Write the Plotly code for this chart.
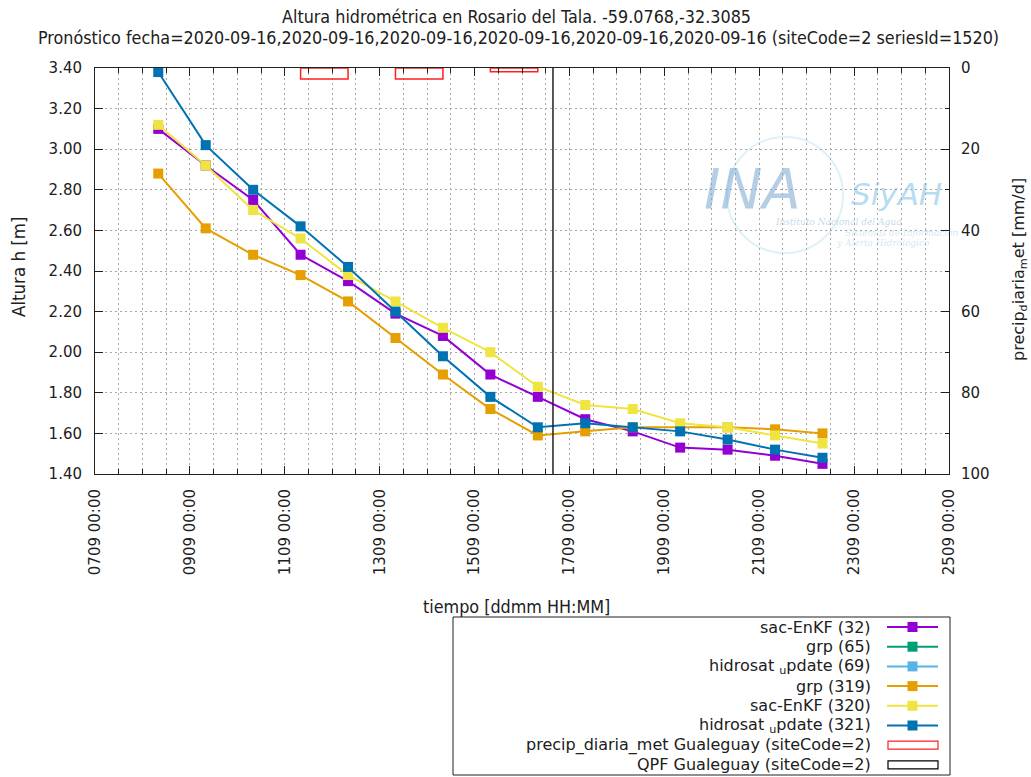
import plotly.graph_objects as go

# ---------------- data ----------------
fechas = ["2020-09-08 08:00", "2020-09-09 08:00", "2020-09-10 08:00", "2020-09-11 08:00",
          "2020-09-12 08:00", "2020-09-13 08:00", "2020-09-14 08:00", "2020-09-15 08:00",
          "2020-09-16 08:00", "2020-09-17 08:00", "2020-09-18 08:00", "2020-09-19 08:00",
          "2020-09-20 08:00", "2020-09-21 08:00", "2020-09-22 08:00"]

sac_enkf_32 = [3.10, 2.92, 2.75, 2.48, 2.35, 2.19, 2.08, 1.89, 1.78, 1.67, 1.61, 1.53, 1.52, 1.49, 1.45]
grp_65 = []
hidrosat_69 = []
grp_319 = [2.88, 2.61, 2.48, 2.38, 2.25, 2.07, 1.89, 1.72, 1.59, 1.61, 1.63, 1.63, 1.63, 1.62, 1.60]
sac_enkf_320 = [3.12, 2.92, 2.70, 2.56, 2.38, 2.25, 2.12, 2.00, 1.83, 1.74, 1.72, 1.65, 1.63, 1.59, 1.55]
hidrosat_321 = [3.38, 3.02, 2.80, 2.62, 2.42, 2.20, 1.98, 1.78, 1.63, 1.65, 1.63, 1.61, 1.57, 1.52, 1.48]

precip_fechas = ["2020-09-11 08:00", "2020-09-13 08:00", "2020-09-15 08:00"]
precip_valores = [2.7, 2.7, 0.9]
qpf_fechas = []
qpf_valores = []

fecha_pronostico = "2020-09-16 15:40"

series_names = ["sac-EnKF (32)", "grp (65)", "hidrosat <sub>u</sub>pdate (69)",
                "grp (319)", "sac-EnKF (320)", "hidrosat <sub>u</sub>pdate (321)"]
series_vals = [sac_enkf_32, grp_65, hidrosat_69, grp_319, sac_enkf_320, hidrosat_321]
series_colors = ["#9400d3", "#009e73", "#56b4e9", "#e69f00", "#f0e442", "#0072b2"]
precip_names = ["precip_diaria_met Gualeguay (siteCode=2)", "QPF Gualeguay (siteCode=2)"]
precip_colors = ["#ff2020", "#000000"]

title1 = "Altura hidrométrica en Rosario del Tala. -59.0768,-32.3085"
title2 = ("Pronóstico fecha=2020-09-16,2020-09-16,2020-09-16,2020-09-16,2020-09-16,2020-09-16 "
          "(siteCode=2 seriesId=1520)")

# ---------------- layout geometry ----------------
W, H = 1031, 777
L, R, T, B = 95, 949, 68, 474


def xp(px):
    return (px - L) / (R - L)


def yp(py):
    return (B - py) / (B - T)


FONT = "DejaVu Sans"
COND = "DejaVu Sans Condensed, DejaVu Sans"
INK = "#202020"
GRID = "#a8a8a8"

fig = go.Figure()

# precipitation bars (right axis, reversed)
fig.add_trace(go.Bar(x=precip_fechas, y=precip_valores, yaxis="y2", base=0,
                     width=86400000, offset=0,
                     marker=dict(color="rgba(0,0,0,0)", line=dict(color=precip_colors[0], width=1.5)),
                     name=precip_names[0], showlegend=False))
fig.add_trace(go.Bar(x=qpf_fechas, y=qpf_valores, yaxis="y2", base=0,
                     width=86400000, offset=0,
                     marker=dict(color="rgba(0,0,0,0)", line=dict(color=precip_colors[1], width=1.5)),
                     name=precip_names[1], showlegend=False))

for name, vals, col in zip(series_names, series_vals, series_colors):
    fig.add_trace(go.Scatter(x=fechas[:len(vals)], y=vals, mode="lines+markers", name=name,
                             line=dict(color=col, width=2),
                             marker=dict(symbol="square", size=10, color=col),
                             showlegend=False))

# forecast date vertical line
fig.add_shape(type="line", xref="x", yref="paper", x0=fecha_pronostico, x1=fecha_pronostico,
              y0=0, y1=1, line=dict(color=INK, width=1.5))

# ---------------- watermark logo ----------------
fig.add_shape(type="circle", xref="paper", yref="paper", xsizemode="pixel", ysizemode="pixel",
              xanchor=xp(785), yanchor=yp(195), x0=-58, x1=58, y0=-58, y1=58,
              line=dict(color="rgba(160,215,235,0.35)", width=2), layer="below")
annotations = [
    dict(text="INA", x=xp(752), y=yp(188), font=dict(family=FONT, size=56, color="rgba(120,165,205,0.55)", style="italic")),
    dict(text="SiyAH", x=xp(896), y=yp(194), font=dict(family=FONT, size=31, color="rgba(110,185,225,0.5)", style="italic")),
    dict(text="Instituto Nacional del Agua", x=xp(838), y=yp(222), font=dict(family="DejaVu Serif", size=9, color="rgba(120,165,205,0.45)", style="italic")),
    dict(text="Sistemas de Información", x=xp(902), y=yp(233), font=dict(family="DejaVu Serif", size=9, color="rgba(110,185,225,0.35)", style="italic")),
    dict(text="y Alerta Hidrológico", x=xp(883), y=yp(243), font=dict(family="DejaVu Serif", size=9, color="rgba(110,185,225,0.35)", style="italic")),
]
for a in annotations:
    a.update(xref="paper", yref="paper", showarrow=False, xanchor="center", yanchor="middle")

# ---------------- titles ----------------
text_annots = [
    dict(text=title1, x=xp(516), y=yp(17), font=dict(family=COND, size=17.8, color=INK)),
    dict(text=title2, x=xp(518), y=yp(38), font=dict(family=COND, size=17.8, color=INK)),
    dict(text="tiempo [ddmm HH:MM]", x=xp(516), y=yp(606), font=dict(family=COND, size=17.8, color=INK)),
    dict(text="Altura h [m]", x=xp(18), y=yp(267), textangle=-90, font=dict(family=COND, size=18.5, color=INK)),
    dict(text="precip<sub>d</sub>iaria<sub>m</sub>et [mm/d]", x=xp(1019), y=yp(270), textangle=-90,
         font=dict(family=FONT, size=16, color=INK)),
]
for a in text_annots:
    a.update(xref="paper", yref="paper", showarrow=False, xanchor="center", yanchor="middle")

# ---------------- manual legend (text right, sample at right) ----------------
fig.add_shape(type="rect", xref="paper", yref="paper", x0=xp(453), x1=xp(950), y0=yp(775), y1=yp(617),
              line=dict(color=INK, width=1), fillcolor="white", layer="above")
row0, dy = 627, 19.7
legend_annots = []
legend_entries = list(zip(series_names, series_colors)) + list(zip(precip_names, precip_colors))
for i, (name, col) in enumerate(legend_entries):
    yy = row0 + i * dy
    legend_annots.append(dict(text=name, x=xp(873), y=yp(yy), xref="paper", yref="paper", showarrow=False,
                              xanchor="right", yanchor="middle",
                              font=dict(family=FONT, size=16, color=INK)))
    if i < len(series_names):
        fig.add_shape(type="line", xref="paper", yref="paper", x0=xp(887), x1=xp(938), y0=yp(yy), y1=yp(yy),
                      line=dict(color=col, width=2), layer="above")
        fig.add_shape(type="rect", xref="paper", yref="paper", x0=xp(907.5), x1=xp(917.5),
                      y0=yp(yy + 5), y1=yp(yy - 5), line=dict(color=col, width=0), fillcolor=col, layer="above")
    else:
        fig.add_shape(type="rect", xref="paper", yref="paper", x0=xp(888), x1=xp(938),
                      y0=yp(yy + 4), y1=yp(yy - 4), line=dict(color=col, width=1.2),
                      fillcolor="rgba(0,0,0,0)", layer="above")

fig.update_layout(
    width=W, height=H,
    margin=dict(l=L, r=W - R, t=T, b=H - B, pad=0),
    paper_bgcolor="white", plot_bgcolor="white",
    showlegend=False, barmode="overlay",
    annotations=annotations + text_annots + legend_annots,
    xaxis=dict(type="date", range=["2020-09-07", "2020-09-25"], tick0="2020-09-07", dtick=2 * 86400000,
               tickformat="%d%m %H:%M", tickangle=-90, ticks="inside", ticklen=8, tickcolor=INK,
               showgrid=True, gridcolor=GRID, griddash="2px,3px", gridwidth=1,
               showline=True, linecolor=INK, linewidth=1, mirror="ticks", zeroline=False,
               ticklabelstandoff=8,
               tickfont=dict(family=FONT, size=15, color=INK),
               minor=dict(dtick=12 * 3600000, ticks="inside", ticklen=5, tickcolor=INK,
                          showgrid=True, gridcolor=GRID, griddash="2px,3px", gridwidth=1)),
    yaxis=dict(range=[1.4, 3.4], dtick=0.2, tickformat=".2f", ticks="inside", ticklen=8, tickcolor=INK,
               showgrid=True, gridcolor=GRID, griddash="2px,3px", gridwidth=1,
               showline=True, linecolor=INK, linewidth=1, zeroline=False,
               ticklabelstandoff=9,
               tickfont=dict(family=FONT, size=15, color=INK)),
    yaxis2=dict(overlaying="y", side="right", range=[100, 0], dtick=20, ticks="inside", ticklen=8,
                tickcolor=INK, showgrid=False, zeroline=False,
                showline=True, linecolor=INK, linewidth=1, ticklabelstandoff=8,
                tickfont=dict(family=FONT, size=15, color=INK),
                minor=dict(dtick=10, ticks="inside", ticklen=4, tickcolor=INK)),
)

fig.write_html("out.html", config={"displayModeBar": False},
               post_script="document.body.style.margin='0px';document.body.style.padding='0px';")
